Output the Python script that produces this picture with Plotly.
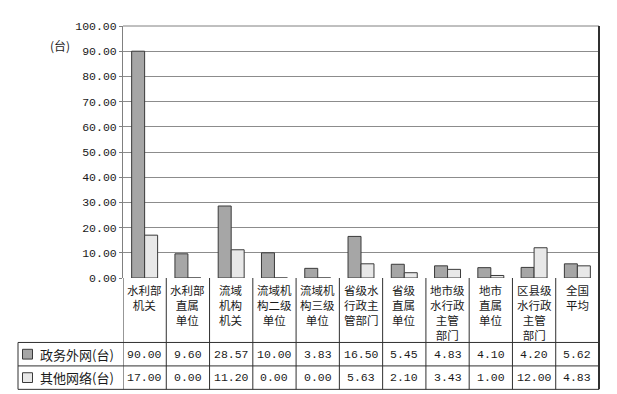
import plotly.graph_objects as go

categories = ["水利部\n机关", "水利部\n直属\n单位", "流域\n机构\n机关", "流域机\n构二级\n单位",
              "流域机\n构三级\n单位", "省级水\n行政主\n管部门", "省级\n直属\n单位",
              "地市级\n水行政\n主管\n部门", "地市\n直属\n单位", "区县级\n水行政\n主管\n部门", "全国\n平均"]
series_names = ["政务外网(台)", "其他网络(台)"]
gov_net = [90.00, 9.60, 28.57, 10.00, 3.83, 16.50, 5.45, 4.83, 4.10, 4.20, 5.62]
other_net = [17.00, 0.00, 11.20, 0.00, 0.00, 5.63, 2.10, 3.43, 1.00, 12.00, 4.83]
y_ticks = [0, 10, 20, 30, 40, 50, 60, 70, 80, 90, 100]
y_unit = "(台)"

# page has an 8px body margin; compensate so the figure lands where the reference is
OFF = 8
SW, SH = 617, 394          # screen size
SL, ST, SR, SB = 123, 20, 599, 278   # plot area edges in screen pixels
W, H = SW - OFF, SH - OFF
L, T = SL - OFF, ST - OFF
R = W - (SR - OFF)
B = H - (SB - OFF)
PW = SR - SL
PH = SB - ST

CJK = "Noto Sans CJK SC"
NUM = "Liberation Mono"
DARK = "#a6a6a6"
LIGHT = "#e8e8e8"
EDGE = "#3a3a3a"
TXT = "#1a1a1a"
LINE = "#303030"


def px_x(px):
    return (px - SL) / PW


def px_y(py):
    return 1 - (py - ST) / PH


ids = list(range(len(categories)))
fig = go.Figure()
for name, vals, col in [(series_names[0], gov_net, DARK), (series_names[1], other_net, LIGHT)]:
    fig.add_trace(go.Bar(x=ids, y=vals, name=name,
                         marker=dict(color=col, line=dict(color=EDGE, width=1))))

shapes = []
annotations = []
n = len(categories)
table_top = SB
row1_top, row2_top, table_bot = 344, 368, 392

for yy in [row1_top, row2_top, table_bot]:
    shapes.append(dict(type="line", xref="paper", yref="paper", x0=px_x(18), x1=1,
                       y0=px_y(yy), y1=px_y(yy), line=dict(color=LINE, width=1)))
shapes.append(dict(type="line", xref="paper", yref="paper", x0=px_x(18), x1=px_x(18),
                   y0=px_y(row1_top), y1=px_y(table_bot), line=dict(color=LINE, width=1)))
for i in range(n + 1):
    shapes.append(dict(type="line", xref="x", yref="paper", x0=i - 0.5, x1=i - 0.5,
                       y0=px_y(table_top), y1=px_y(table_bot),
                       line=dict(color=LINE, width=1)))
shapes.append(dict(type="line", xref="paper", yref="paper", x0=0, x1=1, y0=1, y1=1,
                   line=dict(color="#808080", width=1)))
shapes.append(dict(type="line", xref="paper", yref="paper", x0=1, x1=1, y0=1, y1=px_y(table_bot),
                   line=dict(color=LINE, width=2)))

# category labels in the table header cells
for i, lab in enumerate(categories):
    annotations.append(dict(x=i, y=px_y(280), xref="x", yref="paper",
                            text="<br>".join(lab.split("\n")), showarrow=False,
                            xanchor="center", yanchor="top", align="center",
                            font=dict(family=CJK, size=11.5, color=TXT)))

# data rows
for r, (name, vals, col) in enumerate([(series_names[0], gov_net, DARK),
                                       (series_names[1], other_net, LIGHT)]):
    top = [row1_top, row2_top][r]
    cy = top + 12
    shapes.append(dict(type="rect", xref="paper", yref="paper", x0=px_x(22.5), x1=px_x(32.5),
                       y0=px_y(cy - 5), y1=px_y(cy + 5), fillcolor=col,
                       line=dict(color=EDGE, width=1)))
    annotations.append(dict(x=px_x(38), y=px_y(cy), xref="paper", yref="paper", text=name,
                            showarrow=False, xanchor="left", yanchor="middle",
                            font=dict(family=CJK, size=13, color=TXT)))
    for i, v in enumerate(vals):
        annotations.append(dict(x=i, y=px_y(cy), xref="x", yref="paper", text=f"{v:.2f}",
                                showarrow=False, xanchor="center", yanchor="middle",
                                font=dict(family=NUM, size=11.5, color=TXT)))

annotations.append(dict(x=px_x(60), y=px_y(40), xref="paper", yref="paper", text=y_unit,
                        showarrow=False, xanchor="center", yanchor="middle",
                        font=dict(family=CJK, size=12, color=TXT)))

fig.update_layout(
    width=W, height=H, margin=dict(l=L, r=R, t=T, b=B, pad=0),
    paper_bgcolor="white", plot_bgcolor="white",
    barmode="group", bargap=0.4, bargroupgap=0,
    showlegend=False,
    xaxis=dict(range=[-0.5, n - 0.5], showticklabels=False, showgrid=False, zeroline=False,
               showline=False, ticks=""),
    yaxis=dict(range=[0, 100], tickvals=y_ticks, tickformat=".2f",
               showgrid=True, gridcolor="#8c8c8c", gridwidth=1, zeroline=False,
               showline=True, linecolor="#808080", linewidth=1,
               ticks="outside", ticklen=3, tickcolor="#808080",
               tickfont=dict(family=NUM, size=11.5, color=TXT)),
    shapes=shapes, annotations=annotations,
)
fig.write_html("out.html")
